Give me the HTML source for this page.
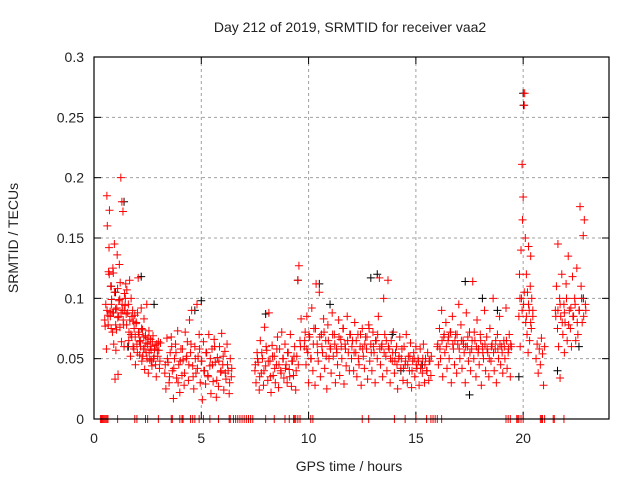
<!DOCTYPE html>
<html><head><meta charset="utf-8"><style>
body{margin:0;background:#fff;}
svg{display:block;font-family:"Liberation Sans",sans-serif;}
</style></head><body>
<svg id="chart" width="640" height="480" viewBox="0 0 640 480">
<text x="350" y="32" font-size="14" text-anchor="middle" fill="#222">Day 212 of 2019, SRMTID for receiver vaa2</text>
<text x="349" y="471" font-size="14" text-anchor="middle" fill="#222">GPS time / hours</text>
<text transform="translate(18,238) rotate(-90)" font-size="14" text-anchor="middle" fill="#222">SRMTID / TECUs</text>
<g id="grid"></g>
<g id="ticks"></g>
<g id="marks"></g>
<rect x="94" y="57" width="515" height="362" fill="none" stroke="#000" stroke-width="1.2"/>
</svg>
<script>
const xTicks=[0,5,10,15,20];
const yTicks=[0,0.05,0.1,0.15,0.2,0.25,0.3];
const yTickLabels=["0","0.05","0.1","0.15","0.2","0.25","0.3"];
const hours=[.5,.52,.55,.58,.6,.62,.65,.68,.7,.72,.75,.78,.8,.82,.85,.88,.9,.92,.95,.98,1.0,1.02,1.05,1.08,1.1,1.12,1.15,1.18,1.2,1.22,1.25,1.28,1.3,1.32,1.35,1.38,1.4,1.42,1.45,1.48,
1.5,1.53,1.56,1.6,1.63,1.66,1.7,1.73,1.76,1.8,1.83,1.86,1.9,1.93,1.96,2.0,2.03,2.06,2.1,2.13,2.16,2.2,2.23,2.26,2.3,2.33,2.36,2.4,2.43,2.46,2.5,2.53,2.56,2.6,2.63,2.66,2.7,2.75,2.8,2.85,2.9,2.95,3.0,3.05,3.1,
3.3,3.35,3.4,3.45,3.5,3.55,3.6,3.65,3.7,3.75,3.8,3.85,3.9,3.95,4.0,4.05,4.1,4.15,4.2,4.25,4.3,4.35,4.4,4.45,4.5,4.55,4.6,4.65,4.7,4.75,4.8,4.85,4.9,4.95,5.0,5.05,5.1,5.15,5.2,5.25,5.3,5.35,5.4,5.45,5.5,5.55,5.6,5.65,5.7,5.75,5.8,5.85,5.9,5.95,6.0,6.05,6.1,6.15,6.2,6.25,6.3,6.35,6.4,
7.5,7.55,7.6,7.65,7.7,7.75,7.8,7.85,7.9,7.95,8.0,8.05,8.1,8.15,8.2,8.25,8.3,8.35,8.4,8.45,8.5,8.55,8.6,8.65,8.7,8.75,8.8,8.85,8.9,8.95,9.0,9.05,9.1,9.15,9.2,9.25,9.3,9.35,9.4,9.45,9.5,9.55,9.6,9.65,
9.8,9.84,9.88,9.92,9.96,10.0,10.05,10.1,10.15,10.2,10.25,10.3,10.35,10.4,10.45,10.5,10.55,10.6,10.65,10.7,10.75,10.8,10.85,10.9,10.95,11.0,11.05,11.1,11.15,11.2,11.25,11.3,11.35,11.4,11.45,11.5,11.55,11.6,11.65,11.7,11.75,11.8,11.85,11.9,11.95,
12.0,12.05,12.1,12.15,12.2,12.25,12.3,12.35,12.4,12.45,12.5,12.55,12.6,12.65,12.7,12.75,12.8,12.85,12.9,12.95,13.0,13.05,13.1,13.15,13.2,13.25,13.3,13.35,13.4,13.45,13.5,13.55,13.6,13.65,13.7,13.75,13.8,13.85,13.9,13.95,14.0,14.05,14.1,14.15,14.2,14.25,14.3,14.35,14.4,14.45,14.5,14.55,14.6,14.65,14.7,14.75,14.8,14.85,14.9,14.95,15.0,15.05,15.1,15.15,15.2,15.25,15.3,15.35,15.4,15.45,15.5,15.55,15.6,15.65,15.7,
16.0,16.05,16.1,16.15,16.2,16.25,16.3,16.35,16.4,16.45,16.5,16.55,16.6,16.65,16.7,16.75,16.8,16.85,16.9,16.95,17.0,17.05,17.1,17.15,17.2,17.25,17.3,17.35,17.4,17.45,17.5,17.55,17.6,17.65,17.7,17.75,17.8,17.85,17.9,17.95,18.0,18.05,18.1,18.15,18.2,18.25,18.3,18.35,18.4,18.45,18.5,18.55,18.6,18.65,18.7,18.75,18.8,18.85,18.9,18.95,19.0,19.05,19.1,19.15,19.2,19.25,19.3,19.35,19.4,19.45,
19.8,19.83,19.86,19.9,19.92,19.95,19.97,20.0,20.02,20.05,20.07,20.1,20.12,20.15,20.18,20.2,20.23,20.25,20.28,20.3,20.33,20.35,20.38,20.4,20.45,
20.6,20.65,20.7,20.75,20.8,20.85,20.9,20.95,21.0,
21.5,21.55,21.6,21.62,21.65,21.7,21.72,21.75,21.8,21.85,21.9,21.92,21.95,22.0,22.05,22.1,22.15,22.2,22.25,22.3,22.35,22.4,22.45,22.5,22.55,22.6,22.65,22.7,22.75,22.8,22.85,22.9];
const srmtid=[.082,.077,.095,.058,.185,.16,.086,.122,.142,.173,.089,.11,.075,.099,.088,.125,.121,.062,.145,.033,.091,.057,.074,.136,.108,.037,.085,.128,.099,.113,.2,.064,.18,.09,.172,.078,.06,.104,.094,.112,
.087,.107,.06,.095,.072,.115,.052,.1,.068,.09,.081,.058,.086,.045,.079,.062,.088,.117,.07,.053,.065,.092,.048,.074,.058,.083,.041,.069,.055,.095,.062,.038,.073,.049,.066,.057,.044,.069,.052,.061,.035,.057,.064,.042,.063,
.038,.025,.067,.047,.03,.055,.068,.04,.017,.05,.062,.034,.073,.045,.022,.058,.036,.049,.028,.072,.05,.064,.032,.082,.055,.09,.044,.025,.06,.038,.095,.052,.07,.03,.048,.016,.064,.04,.029,.055,.036,.07,.044,.021,.058,.031,.066,.047,.018,.051,.027,.06,.039,.071,.045,.024,.056,.033,.062,.04,.021,.05,.035,
.04,.03,.055,.047,.024,.065,.038,.05,.028,.076,.044,.057,.032,.088,.048,.022,.061,.036,.052,.03,.045,.068,.026,.058,.04,.072,.05,.034,.062,.045,.03,.055,.041,.07,.027,.048,.036,.06,.024,.052,.115,.127,.065,.083,
.06,.072,.045,.085,.055,.03,.068,.05,.092,.04,.075,.028,.112,.062,.048,.105,.035,.07,.055,.083,.042,.065,.025,.078,.05,.06,.038,.088,.052,.07,.03,.058,.045,.082,.036,.066,.05,.075,.029,.062,.044,.085,.055,.04,.07,
.05,.065,.04,.08,.055,.035,.07,.045,.06,.028,.075,.052,.042,.068,.058,.033,.078,.048,.062,.04,.072,.055,.03,.065,.05,.085,.117,.045,.06,.035,.1,.07,.052,.04,.115,.058,.03,.065,.048,.072,.038,.055,.06,.025,.05,.068,.042,.058,.032,.06,.045,.07,.03,.052,.04,.063,.026,.048,.055,.035,.06,.042,.05,.028,.058,.045,.038,.062,.03,.05,.04,.055,.032,.048,.036,
.06,.045,.075,.05,.09,.035,.068,.055,.08,.042,.065,.05,.072,.03,.085,.058,.045,.07,.038,.062,.095,.05,.078,.042,.065,.055,.03,.088,.06,.048,.072,.04,.058,.114,.05,.065,.035,.082,.055,.045,.07,.028,.06,.05,.09,.04,.068,.055,.035,.075,.048,.062,.1,.04,.058,.03,.07,.05,.085,.045,.06,.038,.065,.05,.092,.042,.055,.07,.035,.06,
.085,.12,.06,.14,.1,.211,.165,.184,.095,.26,.27,.15,.08,.12,.07,.105,.055,.143,.09,.065,.11,.135,.075,.1,.085,
.05,.062,.038,.058,.045,.067,.054,.028,.06,
.09,.11,.075,.145,.06,.1,.034,.085,.12,.07,.095,.055,.08,.112,.065,.135,.09,.075,.06,.118,.085,.1,.065,.125,.07,.09,.176,.11,.08,.152,.165,.095];
const hours2=[.61,.66,.71,.76,.81,.86,.91,.96,1.01,1.06,1.11,1.16,1.21,1.26,1.31,1.36,1.41,1.46,
1.52,1.57,1.62,1.67,1.72,1.77,1.82,1.87,1.92,1.97,2.02,2.07,2.12,2.17,2.22,2.27,2.32,2.37,2.42,2.47,2.52,2.57,2.62,2.67,2.72,2.77,2.82,2.87,2.92,2.97,3.02,3.07,
3.32,3.42,3.52,3.62,3.72,3.82,3.92,4.02,4.12,4.22,4.32,4.42,4.52,4.62,4.72,4.82,4.92,5.02,5.12,5.22,5.32,5.42,5.52,5.62,5.72,5.82,5.92,6.02,6.12,6.22,6.32,6.42,
7.52,7.62,7.72,7.82,7.92,8.02,8.12,8.22,8.32,8.42,8.52,8.62,8.72,8.82,8.92,9.02,9.12,9.22,9.32,9.42,9.52,9.62,
9.82,9.92,10.02,10.12,10.22,10.32,10.42,10.52,10.62,10.72,10.82,10.92,11.02,11.12,11.22,11.32,11.42,11.52,11.62,11.72,11.82,11.92,
12.02,12.12,12.22,12.32,12.42,12.52,12.62,12.72,12.82,12.92,13.02,13.12,13.22,13.32,13.42,13.52,13.62,13.72,13.82,13.92,14.02,14.12,14.22,14.32,14.42,14.52,14.62,14.72,14.82,14.92,15.02,15.12,15.22,15.32,15.42,15.52,15.62,15.72,
16.02,16.12,16.22,16.32,16.42,16.52,16.62,16.72,16.82,16.92,17.02,17.12,17.22,17.32,17.42,17.52,17.62,17.72,17.82,17.92,18.02,18.12,18.22,18.32,18.42,18.52,18.62,18.72,18.82,18.92,19.02,19.12,19.22,19.32,19.42,
19.85,19.95,20.05,20.15,20.25,20.35,20.45,
21.52,21.62,21.72,21.82,21.92,22.02,22.12,22.22,22.32,22.42,22.52,22.62,22.72,22.82,22.92];
const srmtid2=[.09,.078,.12,.085,.095,.072,.088,.105,.078,.092,.084,.098,.076,.088,.095,.082,.09,.1,
.078,.088,.065,.082,.07,.085,.06,.075,.068,.08,.055,.072,.064,.06,.075,.052,.068,.058,.063,.05,.067,.055,.06,.048,.064,.05,.058,.045,.062,.052,.057,.048,
.045,.05,.035,.06,.042,.055,.03,.048,.058,.038,.052,.045,.062,.035,.05,.042,.058,.048,.04,.055,.035,.05,.045,.06,.032,.048,.04,.052,.038,.045,.03,.042,
.045,.05,.035,.055,.04,.06,.048,.035,.052,.042,.058,.045,.038,.05,.042,.055,.035,.048,.052,.04,.045,.06,
.065,.058,.07,.05,.062,.075,.055,.068,.06,.072,.052,.065,.058,.07,.062,.055,.068,.06,.075,.058,.065,.07,
.06,.055,.065,.05,.07,.058,.062,.068,.075,.055,.06,.065,.07,.058,.062,.055,.065,.06,.05,.055,.048,.045,.052,.05,.042,.048,.045,.052,.04,.05,.045,.048,.042,.05,.045,.04,.048,.052,
.062,.058,.065,.07,.06,.068,.072,.062,.065,.07,.058,.065,.062,.06,.068,.055,.065,.072,.06,.058,.065,.055,.062,.058,.05,.06,.055,.065,.058,.062,.055,.06,.065,.058,.062,
.1,.09,.105,.085,.095,.08,.09,
.085,.09,.095,.08,.088,.1,.078,.092,.085,.095,.08,.09,.1,.085,.09];
const blackHours=[0.8,1.0,1.4,1.6,2.2,2.8,4.7,5.0,8.0,9.5,10.5,11.0,12.9,13.2,13.9,14.3,15.3,17.3,17.5,18.1,18.8,19.8,20.0,20.02,21.6,22.6,22.8];
const blackSrmtid=[.11,.105,.18,.06,.118,.095,.09,.098,.087,.115,.112,.095,.117,.12,.07,.04,.045,.114,.02,.1,.09,.035,.27,.26,.04,.06,.1];
const zeroHours=[0.3,0.35,0.4,0.45,0.5,0.55,0.6,0.65,1.1,1.9,2.0,2.4,2.5,3.0,3.6,3.65,4.0,4.1,4.15,4.5,4.6,4.7,4.9,5.1,5.4,5.8,6.3,6.35,6.5,6.6,6.7,6.8,6.9,7.0,7.1,7.2,7.3,7.4,8.0,8.4,8.9,9.1,9.3,9.35,9.4,9.5,9.6,10.1,10.2,12.5,12.8,14.0,14.5,15.0,15.5,15.7,15.8,15.9,16.0,16.2,19.2,19.3,19.4,19.7,19.75,19.8,19.9,20.0,20.8,20.85,20.9,21.0,21.4,21.45,21.9];

const X0=94,X1=609,Y0=419,Y1=57,XMAX=24,YMAX=0.3;
function xs(h){return X0+(X1-X0)*h/XMAX;}
function ys(v){return Y0-(Y0-Y1)*v/YMAX;}
const NS="http://www.w3.org/2000/svg";
function mk(tag,attrs,parent){const e=document.createElementNS(NS,tag);for(const k in attrs)e.setAttribute(k,attrs[k]);parent.appendChild(e);return e;}
const grid=document.getElementById('grid'),ticks=document.getElementById('ticks'),marks=document.getElementById('marks');
yTicks.forEach((v,i)=>{
  const y=ys(v);
  if(i>0&&i<yTicks.length-1){const g=mk('line',{x1:X0,x2:X1,y1:y,y2:y,stroke:'#a0a0a0','stroke-dasharray':'3,3','stroke-width':1},grid);
  
  }
  mk('line',{x1:X0,x2:X0+7,y1:y,y2:y,stroke:'#000'},ticks);
  mk('line',{x1:X1-7,x2:X1,y1:y,y2:y,stroke:'#000'},ticks);
  const t=mk('text',{x:X0-10,y:y+5,'font-size':14,'text-anchor':'end',fill:'#222'},ticks);
  t.textContent=yTickLabels[i];
  
  
});
xTicks.forEach(h=>{
  const x=xs(h);
  if(h>0){const g=mk('line',{x1:x,x2:x,y1:Y1,y2:Y0,stroke:'#a0a0a0','stroke-dasharray':'3,3','stroke-width':1},grid);
  
  }
  mk('line',{x1:x,x2:x,y1:Y0,y2:Y0-7,stroke:'#000'},ticks);
  mk('line',{x1:x,x2:x,y1:Y1,y2:Y1+7,stroke:'#000'},ticks);
  const t=mk('text',{x:x,y:Y0+24,'font-size':14,'text-anchor':'middle',fill:'#222'},ticks);
  t.textContent=String(h);
  
  
});
function cross(h,v,color,name){
  const x=xs(h),y=ys(v);
  const p=mk('path',{d:`M${x-4},${y}H${x+4}M${x},${y-4}V${y+4}`,stroke:color,'stroke-width':1,fill:'none'},marks);
  
  
}
blackHours.forEach((h,i)=>cross(h,blackSrmtid[i],'#000','receiver-point-alt'));
hours.forEach((h,i)=>cross(h,srmtid[i],'#ff0000','srmtid-point'));
hours2.forEach((h,i)=>cross(h,srmtid2[i],'#ff0000','srmtid-point'));
zeroHours.forEach(h=>cross(h,0,'#ff0000','zero-point'));
</script>
</body></html>
